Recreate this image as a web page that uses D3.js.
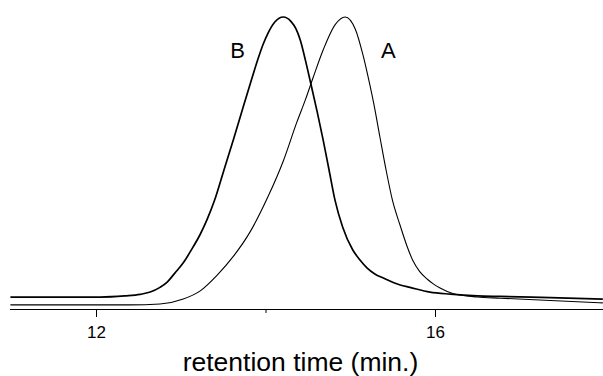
<!DOCTYPE html>
<html>
<head>
<meta charset="utf-8">
<script src="https://cdn.jsdelivr.net/npm/d3@7"></script>
<style>
  body { margin: 0; background: #fff; }
  svg text { font-family: "Liberation Sans", Arial, sans-serif; fill: #000; }
</style>
</head>
<body>
<svg id="chart" width="603" height="376"></svg>
<script>
// retention time (min) and detector signal (arbitrary units)
const timeB = [10.99, 12.05, 12.34, 12.52, 12.64, 12.755, 12.84, 12.93, 13.03, 13.12, 13.23, 13.31, 13.40, 13.51, 13.62, 13.735, 13.84, 13.91, 13.97, 14.03, 14.11, 14.21, 14.30, 14.36, 14.41, 14.47, 14.525, 14.61, 14.68, 14.75, 14.82, 14.91, 15.03, 15.115, 15.20, 15.29, 15.39, 15.59, 15.705, 15.94, 16.18, 16.50, 16.77, 17.36, 17.98]
const signalB = [4.1, 4.1, 4.5, 5.0, 5.8, 7.4, 9.2, 12.3, 15.8, 20.0, 25.6, 30.6, 37.3, 47.6, 57.9, 69.0, 79.0, 85.5, 90.5, 94.5, 98.3, 100, 98.5, 95.9, 92.1, 85.3, 78.4, 67.5, 57.9, 47.6, 37.3, 28.1, 20.2, 16.8, 14.0, 12.0, 10.6, 8.2, 7.4, 5.8, 5.1, 4.5, 4.3, 3.9, 3.4]

const timeA = [10.99, 12.40, 12.755, 13.03, 13.23, 13.43, 13.62, 13.82, 14.03, 14.21, 14.37, 14.47, 14.56, 14.68, 14.82, 14.94, 15.06, 15.15, 15.21, 15.28, 15.35, 15.42, 15.50, 15.59, 15.67, 15.74, 15.82, 15.91, 15.98, 16.06, 16.21, 16.50, 16.77, 17.36, 17.98]
const signalA = [1.4, 1.4, 1.7, 3.4, 6.2, 11.6, 18.0, 26.5, 38.5, 50.7, 64.0, 71.6, 79.1, 88.7, 97.3, 100, 95.8, 87.0, 79.6, 70.0, 58.9, 48.0, 37.0, 28.5, 21.5, 16.5, 12.8, 10.2, 8.6, 7.2, 5.3, 4.1, 3.7, 2.9, 2.1]

const majorTicks = [12, 16]
const minorTicks = [14]
const peakLabels = [{name: 'B', t: 13.67, s: 86}, {name: 'A', t: 15.45, s: 86}]

const svg = d3.select('#chart')

const x = d3.scaleLinear()
  .domain([11, 18])
  .range([11.25, 604.5])

const y = d3.scaleLinear()
  .domain([0, 100])
  .range([309, 17])

// minor tick at 14, no label
svg.append('g')
  .attr('transform', 'translate(0,309)')
  .call(d3.axisBottom(x).tickValues(minorTicks).tickSize(4).tickSizeOuter(0).tickFormat(''))
  .call(g => g.select('.domain').remove())

const ax = svg.append('g')
  .attr('transform', 'translate(0,309)')
  .call(d3.axisBottom(x).tickValues(majorTicks).tickSize(8).tickSizeOuter(0).tickPadding(9).tickFormat(d3.format('d')))
ax.select('.domain').attr('d', 'M10,0.5H603')
ax.selectAll('text').attr('font-size', 17).style('font-family', '"Liberation Sans", Arial, sans-serif')

svg.append('text')
  .attr('x', 300.5)
  .attr('y', 371)
  .attr('text-anchor', 'middle')
  .attr('font-size', 26.5)
  .text('retention time (min.)')

const line = d3.line()
  .x(d => x(d[0]))
  .y(d => y(d[1]))
  .curve(d3.curveMonotoneX)

svg.append('path')
  .datum(d3.zip(timeA, signalA))
  .attr('d', line)
  .attr('fill', 'none')
  .attr('stroke', '#000')
  .attr('stroke-width', 1.1)

svg.append('path')
  .datum(d3.zip(timeB, signalB))
  .attr('d', line)
  .attr('fill', 'none')
  .attr('stroke', '#000')
  .attr('stroke-width', 1.7)

svg.selectAll('.peak')
  .data(peakLabels)
  .join('text')
  .attr('class', 'peak')
  .attr('x', d => x(d.t))
  .attr('y', d => y(d.s))
  .attr('text-anchor', 'middle')
  .attr('font-size', 22)
  .text(d => d.name)
</script>
</body>
</html>
